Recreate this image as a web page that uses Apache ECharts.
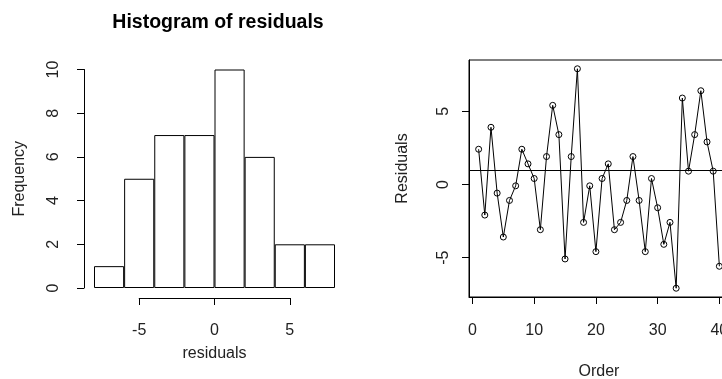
<!DOCTYPE html>
<html>
<head>
<meta charset="utf-8">
<script src="https://cdn.jsdelivr.net/npm/echarts@6/dist/echarts.min.js"></script>
<style>
  html, body { margin: 0; padding: 0; background: #fff; }
  #chart { width: 722px; height: 379px; }
</style>
</head>
<body>
<div id="chart"></div>
<script>
// histogram bins (width 2) and their counts
const binStarts = [-8, -6, -4, -2, 0, 2, 4, 6];
const binCounts = [1, 5, 7, 7, 10, 6, 2, 2];
const histXTicks = [-5, 0, 5];

// residuals in run order 1..40
const residuals = [
  2.41, -2.09, 3.91, -0.59, -3.59, -1.09, -0.09, 2.41, 1.41, 0.41,
  -3.09, 1.91, 5.41, 3.41, -5.09, 1.91, 7.91, -2.59, -0.09, -4.59,
  0.41, 1.41, -3.09, -2.59, -1.09, 1.91, -1.09, -4.59, 0.41, -1.59,
  -4.09, -2.59, -7.09, 5.91, 0.91, 3.41, 6.41, 2.91, 0.91, -5.59
];
const refLine = 0.97;
const orderTicks = [0, 10, 20, 30, 40];
const residTicks = [-5, 0, 5];

const font = '"Liberation Sans", Arial, sans-serif';
const ink = '#000';
const textInk = '#222';

// R pads the data range by 4% on each side
const pad = (lo, hi) => {
  const d = (hi - lo) * 0.04;
  return [lo - d, hi + d];
};
const [xLo, xHi] = pad(1, residuals.length);
const [yLo, yHi] = pad(Math.min(...residuals), Math.max(...residuals));

const chart = echarts.init(document.getElementById('chart'), null, { renderer: 'canvas' });

const axisLine = { show: true, onZero: false, lineStyle: { color: ink, width: 1 } };
const axisTick = { show: true, length: 7, inside: false, lineStyle: { color: ink, width: 1 } };
const labelStyle = { color: textInk, fontSize: 16, fontFamily: font };
const nameStyle = { color: textInk, fontSize: 16, fontFamily: font };

const option = {
  animation: false,
  backgroundColor: '#fff',
  title: {
    text: 'Histogram of residuals',
    left: 213,
    top: 8,
    textAlign: 'center',
    textStyle: { fontSize: 19.5, fontWeight: 'bold', fontFamily: font, color: '#000' }
  },
  grid: [
    // histogram bars: x from -8 to 8, y from 0 to 10
    { left: 94, top: 69.5, width: 241, height: 218.5, outerBoundsMode: 'none' },
    // histogram x axis, only spanning -5..5
    { left: 139.2, top: 69.5, width: 150.6, height: 218.5, outerBoundsMode: 'none' },
    // residuals vs order, boxed; its right side runs past the canvas
    {
      left: 469, top: 60, width: 260, height: 237, outerBoundsMode: 'none',
      show: true, borderColor: ink, borderWidth: 1, backgroundColor: 'transparent'
    }
  ],
  xAxis: [
    {
      gridIndex: 0,
      type: 'category',
      data: binStarts.map(String),
      show: false
    },
    {
      gridIndex: 1,
      type: 'value',
      min: -5,
      max: 5,
      interval: 5,
      offset: 10,
      axisLine: axisLine,
      axisTick: axisTick,
      axisLabel: Object.assign({ margin: 25 }, labelStyle),
      splitLine: { show: false },
      name: 'residuals',
      nameLocation: 'middle',
      nameGap: 48,
      nameTextStyle: nameStyle
    },
    {
      gridIndex: 2,
      type: 'value',
      min: xLo,
      max: xHi,
      axisLine: axisLine,
      axisTick: Object.assign({ customValues: orderTicks }, axisTick),
      axisLabel: Object.assign({ margin: 26, customValues: orderTicks, hideOverlap: false }, labelStyle),
      splitLine: { show: false },
      name: 'Order',
      nameLocation: 'middle',
      nameGap: 67,
      nameTextStyle: nameStyle
    }
  ],
  yAxis: [
    {
      gridIndex: 0,
      type: 'value',
      min: 0,
      max: 10,
      interval: 2,
      offset: 10,
      axisLine: axisLine,
      axisTick: axisTick,
      axisLabel: Object.assign({ rotate: 90, margin: 22 }, labelStyle),
      splitLine: { show: false },
      name: 'Frequency',
      nameLocation: 'middle',
      nameGap: 56,
      nameTextStyle: nameStyle
    },
    {
      gridIndex: 1,
      type: 'value',
      min: 0,
      max: 10,
      show: false
    },
    {
      gridIndex: 2,
      type: 'value',
      min: yLo,
      max: yHi,
      axisLine: axisLine,
      axisTick: Object.assign({ customValues: residTicks }, axisTick),
      axisLabel: Object.assign({ rotate: 90, margin: 17, customValues: residTicks }, labelStyle),
      splitLine: { show: false },
      name: 'Residuals',
      nameLocation: 'middle',
      nameGap: 58,
      nameTextStyle: Object.assign({ padding: [0, 0, 0, 20] }, nameStyle)
    }
  ],
  series: [
    {
      type: 'bar',
      xAxisIndex: 0,
      yAxisIndex: 0,
      data: binCounts,
      barWidth: '100%',
      itemStyle: { color: '#fff', borderColor: ink, borderWidth: 1 }
    },
    {
      type: 'line',
      xAxisIndex: 2,
      yAxisIndex: 2,
      data: residuals.map((r, i) => [i + 1, r]),
      symbol: 'circle',
      symbolSize: 6,
      itemStyle: { color: 'rgba(0,0,0,0)', borderColor: ink, borderWidth: 1 },
      lineStyle: { color: ink, width: 1 },
      markLine: {
        silent: true,
        symbol: 'none',
        label: { show: false },
        lineStyle: { color: ink, width: 1, type: 'solid' },
        data: [{ yAxis: refLine }]
      }
    }
  ]
};

chart.setOption(option);
</script>
</body>
</html>
